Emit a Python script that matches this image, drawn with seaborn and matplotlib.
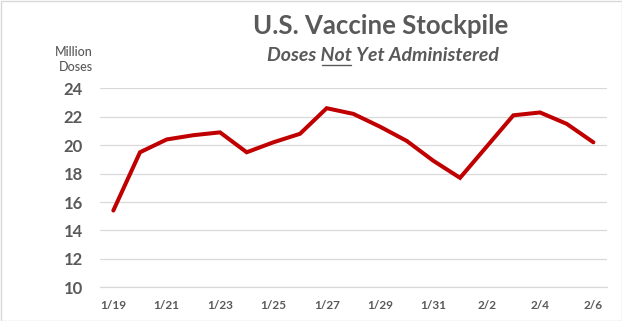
import matplotlib
matplotlib.use("Agg")
import matplotlib.pyplot as plt
from matplotlib.lines import Line2D
from matplotlib.patches import Rectangle
import seaborn as sns
import pandas as pd

# ---- data ----
dates = ["1/19", "1/20", "1/21", "1/22", "1/23", "1/24", "1/25", "1/26", "1/27", "1/28",
         "1/29", "1/30", "1/31", "2/1", "2/2", "2/3", "2/4", "2/5", "2/6"]
doses = [15.4, 19.5, 20.4, 20.7, 20.9, 19.5, 20.2, 20.8, 22.6, 22.2,
         21.3, 20.3, 18.9, 17.7, 19.9, 22.1, 22.3, 21.5, 20.2]
yticks = [10, 12, 14, 16, 18, 20, 22, 24]
title = "U.S. Vaccine Stockpile"
subtitle = "Doses Not Yet Administered"
ylabel_lines = ["Million", "Doses"]

sns.set_theme(style="white")
plt.rcParams['font.family'] = ['Lato', 'DejaVu Sans']

W, H = 622, 321
fig = plt.figure(figsize=(W / 100, H / 100), dpi=100)
fig.patch.set_facecolor("white")

ax = fig.add_axes([100 / W, 1 - 287.3 / H, 506.7 / W, 199 / H])
df = pd.DataFrame({"idx": range(len(dates)), "doses": doses})
sns.lineplot(data=df, x="idx", y="doses", ax=ax, color="#C00000", lw=2.9,
             solid_joinstyle="miter")

grey = "#595959"
ax.set_xlim(-0.5, len(dates) - 0.5)
ax.set_ylim(min(yticks), max(yticks))
ax.set_yticks(yticks)
ax.set_yticklabels([str(v) for v in yticks], fontsize=12, fontweight="bold", color=grey)
ax.set_xticks(range(0, len(dates), 2))
ax.set_xticklabels(dates[::2], fontsize=8.5, fontweight="bold", color=grey)
ax.set_xticks([i - 0.5 for i in range(0, len(dates), 2)], minor=True)
ax.tick_params(axis="y", length=0, pad=12.5)
ax.tick_params(axis="x", which="major", length=0, pad=9)
ax.tick_params(axis="x", which="minor", length=3, width=0.8, color="#D9D9D9")
ax.grid(axis="y", color="#D9D9D9", lw=0.9)
ax.set_axisbelow(True)
for s in ["left", "right", "top"]:
    ax.spines[s].set_visible(False)
ax.spines["bottom"].set_color("#D9D9D9")
ax.spines["bottom"].set_linewidth(0.9)
ax.set_xlabel("")
ax.set_ylabel("")

# titles
fig.text(381 / W, 1 - 34 / H, title, ha="center", va="baseline",
         fontsize=18.5, fontweight="bold", color=grey)
sub_fs = 14
sub = fig.text(383 / W, 1 - 61 / H, subtitle, ha="center", va="baseline",
               fontsize=sub_fs, fontweight="bold", style="italic", color=grey)

# y label
fig.text(74 / W, 1 - 56 / H, ylabel_lines[0], ha="center", va="baseline",
         fontsize=9, fontweight="medium", color=grey)
fig.text(76 / W, 1 - 71 / H, ylabel_lines[1], ha="center", va="baseline",
         fontsize=9, fontweight="medium", color=grey)

# underline "Not"
fig.canvas.draw()
r = fig.canvas.get_renderer()
bb = sub.get_window_extent(r)
props = dict(fontsize=sub_fs, fontweight="bold", style="italic")
t1 = fig.text(0, 0, "Doses Not", **props)
t2 = fig.text(0, 0, "Not", **props)
w1 = t1.get_window_extent(r).width
w2 = t2.get_window_extent(r).width
t1.remove(); t2.remove()
x0 = bb.x0 + w1 - w2
x1 = bb.x0 + w1
yl = (H - 64.5) / H
fig.add_artist(Line2D([x0 / W + 0.002, x1 / W - 0.002], [yl, yl], transform=fig.transFigure,
                      color=grey, lw=1))

# border
fig.add_artist(Rectangle((0.5 / W, 0.5 / H), 1 - 1 / W, 1 - 1 / H, transform=fig.transFigure,
                         fill=False, edgecolor="#D9D9D9", lw=1))

fig.savefig("out.png", dpi=100)
